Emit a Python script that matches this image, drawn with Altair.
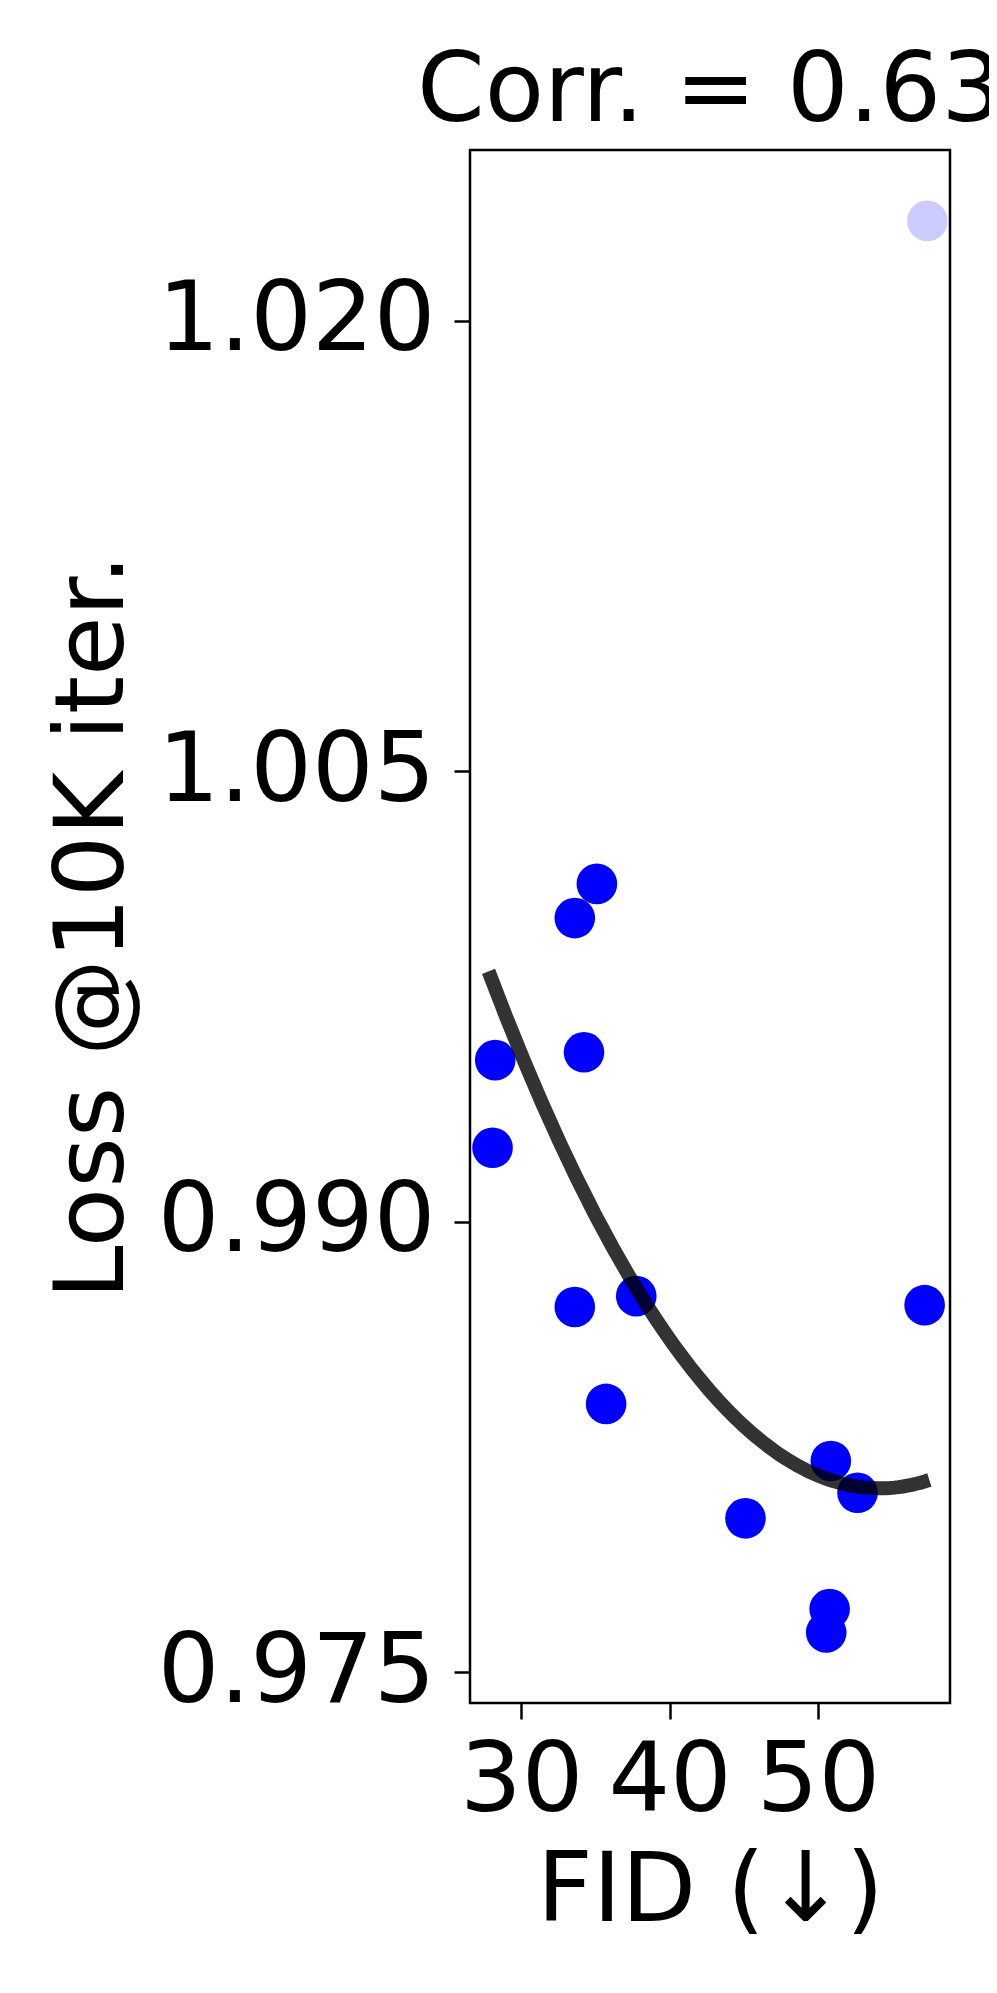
import altair as alt
import pandas as pd

# Main (fitted) points
fid = [35.10, 33.61, 28.25, 34.23, 28.07, 33.61, 37.75, 57.18, 35.72, 50.86, 52.66, 45.11, 50.78, 50.55]
loss = [1.00125, 1.00011, 0.99538, 0.99564, 0.99246, 0.98716, 0.98752, 0.98722,
        0.98393, 0.98203, 0.98097, 0.98012, 0.97710, 0.97632]
# Outlier point (drawn faded)
out_fid = [57.36]
out_loss = [1.02333]

x_ticks = [30, 40, 50]
y_ticks = [0.975, 0.990, 1.005, 1.020]
fit_extent = [27.8, 57.5]
title_text = "Corr. = 0.63"
x_title = "FID (↓)"
y_title = "Loss @10K iter."

df = pd.DataFrame({"fid": fid, "loss": loss})
df_out = pd.DataFrame({"fid": out_fid, "loss": out_loss})

FONT = "DejaVu Sans"
W, H = 480, 1553

xs = alt.Scale(domain=[26.55, 58.89], nice=False, zero=False)
ys = alt.Scale(domain=[0.97397, 1.02569], nice=False, zero=False)

xax = alt.Axis(values=x_ticks, format="d", grid=False, domain=False,
               tickSize=16, tickWidth=2.5, tickColor="black",
               labelFontSize=97, labelFont=FONT, labelColor="black", labelPadding=14,
               labelOverlap=False, labelFlush=False, labelLimit=0,
               title=x_title, titleFontSize=97, titleFont=FONT, titleFontWeight="normal",
               titleColor="black", titleBaseline="alphabetic", titleAlign="center",
               titleX=W / 2, titleY=217, titleLimit=0)
yax = alt.Axis(values=y_ticks, format=".3f", grid=False, domain=False,
               tickSize=16, tickWidth=2.5, tickColor="black",
               labelFontSize=97, labelFont=FONT, labelColor="black", labelPadding=19,
               labelOverlap=False, labelFlush=False, labelLimit=0,
               title=y_title, titleFontSize=97, titleFont=FONT, titleFontWeight="normal",
               titleColor="black", titleBaseline="alphabetic", titleAlign="center",
               titleAngle=270, titleX=-348, titleY=H / 2, titleLimit=0)

enc_x = alt.X("fid:Q", scale=xs, axis=xax)
enc_y = alt.Y("loss:Q", scale=ys, axis=yax)

pts_out = alt.Chart(df_out).mark_circle(size=1650, opacity=1, color="#ccccff").encode(x=enc_x, y=enc_y)
pts = alt.Chart(df).mark_circle(size=1650, opacity=1, color="#0000ff").encode(x=enc_x, y=enc_y)
line = (
    alt.Chart(df)
    .transform_regression("fid", "loss", method="poly", order=2, extent=fit_extent)
    .mark_line(color="black", opacity=0.8, strokeWidth=14, strokeCap="butt")
    .encode(x=alt.X("fid:Q", scale=xs), y=alt.Y("loss:Q", scale=ys))
)

chart = (
    alt.layer(pts_out, pts, line)
    .properties(
        width=W, height=H,
        title=alt.TitleParams(text=title_text, fontSize=97, font=FONT, fontWeight="normal",
                              anchor="middle", baseline="alphabetic", offset=7, dy=75,
                              color="black", limit=0),
        padding={"left": 462, "top": 142, "right": 39, "bottom": 282},
        autosize=alt.AutoSizeParams(type="none"),
    )
    .configure_view(stroke="black", strokeWidth=2.5)
)

chart.save("out.html", embed_options={"renderer": "svg", "actions": False})
